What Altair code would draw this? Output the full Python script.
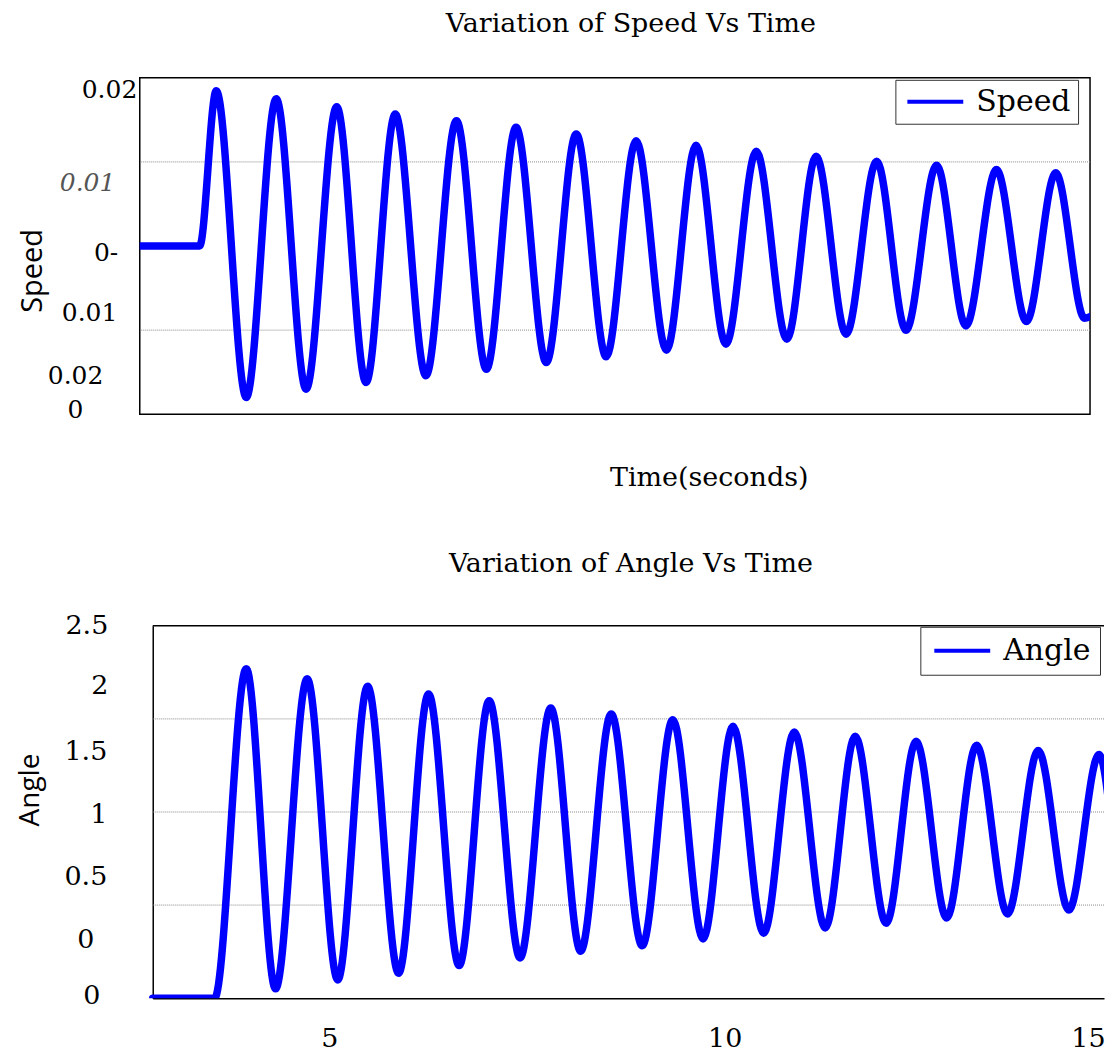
import altair as alt
import pandas as pd

# ---------------- data ----------------
SPEED_T = [0.0, 0.945, 1.208, 1.681, 2.154, 2.626, 3.109, 3.572, 4.033, 4.517,
           4.999, 5.472, 5.940, 6.417, 6.890, 7.363, 7.835, 8.314, 8.781, 9.253,
           9.732, 10.214, 10.677, 11.150, 11.632, 12.095, 12.578, 13.041, 13.523,
           13.996, 14.459, 14.913, 15.0]
SPEED_V = [0.0, 0.0, 0.01847, -0.01801, 0.01752, -0.01702, 0.01657, -0.01623,
           0.01570, -0.01543, 0.01491, -0.01465, 0.01412, -0.01385, 0.01333,
           -0.01318, 0.01253, -0.01239, 0.01199, -0.01168, 0.01128, -0.01109,
           0.01068, -0.01049, 0.01009, -0.01002, 0.00961, -0.00950, 0.00909,
           -0.00899, 0.00870, -0.0086, -0.0084]

ANGLE_T = [0.0, 0.964, 1.457, 1.913, 2.406, 2.882, 3.348, 3.830, 4.297, 4.774,
           5.241, 5.723, 6.201, 6.667, 7.143, 7.625, 8.103, 8.574, 9.040, 9.518,
           9.995, 10.477, 10.944, 11.426, 11.893, 12.369, 12.835, 13.317, 13.795,
           14.272, 14.743, 14.946]
ANGLE_V = [0.0, 0.0, 1.770, 0.050, 1.716, 0.098, 1.675, 0.134, 1.634, 0.175,
           1.598, 0.216, 1.559, 0.252, 1.527, 0.282, 1.496, 0.318, 1.461, 0.348,
           1.430, 0.377, 1.407, 0.402, 1.380, 0.430, 1.359, 0.452, 1.330, 0.473,
           1.309, 0.891]

SPEED_DOMAIN = [-0.02, 0.02]
SPEED_TIME_DOMAIN = [0, 15]
SPEED_GRID = [0.01, -0.01]
SPEED_TICK_POS = [0.01858, 0.00754, -0.00077, -0.00789, -0.01537, -0.01941]
SPEED_TICK_TEXT = ["0.02", "0.01", "0-", "0.01", "0.02", "0"]
ITALIC_TICK = 0.00754

ANGLE_DOMAIN = [0, 2]
ANGLE_TIME_DOMAIN = [0, 14.82]
ANGLE_GRID = [0.5, 1.0, 1.5]
ANGLE_TICK_POS = [2.0, 1.679, 1.326, 0.987, 0.656, 0.313, 0.015]
ANGLE_TICK_TEXT = ["2.5", "2", "1.5", "1", "0.5", "0", "0"]
TIME_TICK_POS = [2.75, 8.91, 14.57]
TIME_TICK_TEXT = ["5", "10", "15"]

# ---------------- styling ----------------
SERIF = "DejaVu Serif"
SANS = "Open Sans"
BLUE = "#0000FF"
SPEED_PAD = [3, 25, 22, 23, 37, 57]
ANGLE_PAD = [45, 45, 46, 46, 46, 59, 53]
LEGEND_PATH = "M-1,0H4.6"   # a 56px line drawn from a 20px symbol slot


def test_of(v):
    return f"abs(datum.value - ({v})) < 1e-9"


def label_expr(vals, texts):
    s = "''"
    for v, t in reversed(list(zip(vals, texts))):
        s = f"{test_of(v)} ? '{t}' : {s}"
    return s


def cond(vals, outs, default):
    return {"condition": [{"test": test_of(v), "value": o} for v, o in zip(vals, outs)],
            "value": default}


def legend(x, y, pad):
    return alt.Legend(title=None, orient="none", legendX=x, legendY=y,
                      symbolType=LEGEND_PATH, symbolSize=400, symbolStrokeWidth=4,
                      labelFont=SERIF, labelFontSize=30, labelColor="black",
                      labelOffset=44, padding=pad, strokeColor="#333333",
                      fillColor="white")


speed_df = pd.DataFrame({"t": SPEED_T, "v": SPEED_V, "series": "Speed"})
angle_df = pd.DataFrame({"t": ANGLE_T, "v": ANGLE_V, "series": "Angle"})

# ---------------- top panel ----------------
top_xscale = alt.Scale(domain=SPEED_TIME_DOMAIN, nice=False, zero=False)
top_yscale = alt.Scale(domain=SPEED_DOMAIN, nice=False, zero=False)
top_xaxis = alt.Axis(labels=False, ticks=False, tickSize=0, domain=False, grid=False,
                     title="Time(seconds)", titleFont=SERIF, titleFontSize=27,
                     titleFontWeight="normal", titleColor="black", titleX=570, titleY=71,
                     titleAlign="center", titleBaseline="alphabetic")
top_yaxis = alt.Axis(values=SPEED_TICK_POS, labelExpr=label_expr(SPEED_TICK_POS, SPEED_TICK_TEXT),
                     ticks=False, tickSize=0, domain=False, grid=False,
                     labelFont=SERIF, labelFontSize=25, labelAlign="right",
                     labelBaseline="middle", labelOverlap=False, labelFlush=False,
                     labelPadding=cond(SPEED_TICK_POS, SPEED_PAD, 10),
                     labelFontStyle=cond([ITALIC_TICK], ["italic"], "normal"),
                     labelColor=cond([ITALIC_TICK], ["#555555"], "black"),
                     title="Speed", titleFont=SANS, titleFontSize=29, titleFontWeight="normal",
                     titleColor="black", titleAngle=270, titleX=-98, titleY=193,
                     titleAlign="center", titleBaseline="alphabetic")

top_grid = alt.Chart(pd.DataFrame({"v": SPEED_GRID})).mark_rule(
    color="#8a8a8a", strokeDash=[1, 1], strokeWidth=1).encode(
    y=alt.Y("v:Q", scale=top_yscale, axis=top_yaxis))

top_line = alt.Chart(speed_df).mark_line(
    strokeWidth=7.5, interpolate="monotone", clip=True, strokeJoin="round", strokeCap="round").encode(
    x=alt.X("t:Q", scale=top_xscale, axis=top_xaxis),
    y=alt.Y("v:Q", scale=top_yscale, axis=top_yaxis),
    color=alt.Color("series:N", scale=alt.Scale(domain=["Speed"], range=[BLUE]),
                    legend=legend(757, 2, 7)))

top = alt.layer(top_grid, top_line).properties(
    width=952, height=337,
    title=alt.TitleParams("Variation of Speed Vs Time", font=SERIF, fontSize=27, fontWeight="normal",
                          color="black", offset=19, baseline="alphabetic", anchor="middle",
                          dx=16, frame="group"),
    view=alt.ViewBackground(stroke="black", strokeWidth=1.5))

# ---------------- bottom panel ----------------
bot_xscale = alt.Scale(domain=ANGLE_TIME_DOMAIN, range=[13, 966], nice=False, zero=False)
bot_yscale = alt.Scale(domain=ANGLE_DOMAIN, nice=False, zero=False)
bot_xaxis = alt.Axis(values=TIME_TICK_POS, labelExpr=label_expr(TIME_TICK_POS, TIME_TICK_TEXT),
                     ticks=False, tickSize=0, domain=True, domainColor="black", domainWidth=1.5,
                     grid=False, labelFont=SERIF, labelFontSize=27, labelColor="black",
                     labelBaseline="middle", labelPadding=40, labelOverlap=False,
                     labelFlush=False, title=None)
bot_yaxis = alt.Axis(values=ANGLE_TICK_POS, labelExpr=label_expr(ANGLE_TICK_POS, ANGLE_TICK_TEXT),
                     offset=-13, ticks=False, tickSize=0, domain=True, domainColor="black",
                     domainWidth=1.5, grid=False, labelFont=SERIF, labelFontSize=27,
                     labelColor="black", labelAlign="right", labelBaseline="middle",
                     labelOverlap=False, labelFlush=False,
                     labelPadding=cond(ANGLE_TICK_POS, ANGLE_PAD, 45),
                     title="Angle", titleFont=SANS, titleFontSize=28, titleFontWeight="normal",
                     titleColor="black", titleAngle=270, titleX=-114, titleY=164,
                     titleAlign="center", titleBaseline="alphabetic")

bot_grid = alt.Chart(pd.DataFrame({"v": ANGLE_GRID, "t": ANGLE_TIME_DOMAIN[0],
                                   "t1": ANGLE_TIME_DOMAIN[1]})).mark_rule(
    color="#8a8a8a", strokeDash=[1, 1], strokeWidth=1).encode(
    x=alt.X("t:Q", scale=bot_xscale, axis=bot_xaxis), x2="t1:Q",
    y=alt.Y("v:Q", scale=bot_yscale, axis=bot_yaxis))

bot_border = alt.Chart(pd.DataFrame({"t": [ANGLE_TIME_DOMAIN[0]], "t1": [ANGLE_TIME_DOMAIN[1]],
                                     "v": [ANGLE_DOMAIN[1]]})).mark_rule(
    color="black", strokeWidth=1.5).encode(
    x=alt.X("t:Q", scale=bot_xscale, axis=bot_xaxis), x2="t1:Q",
    y=alt.Y("v:Q", scale=bot_yscale, axis=bot_yaxis))

bot_line = alt.Chart(angle_df).mark_line(
    strokeWidth=7.5, interpolate="monotone", clip=True, strokeJoin="round", strokeCap="round").encode(
    x=alt.X("t:Q", scale=bot_xscale, axis=bot_xaxis),
    y=alt.Y("v:Q", scale=bot_yscale, axis=bot_yaxis),
    color=alt.Color("series:N", scale=alt.Scale(domain=["Angle"], range=[BLUE]),
                    legend=legend(782, 1, 9)))

bottom = alt.layer(bot_grid, bot_border, bot_line).properties(
    width=966, height=373,
    title=alt.TitleParams("Variation of Angle Vs Time", font=SERIF, fontSize=27, fontWeight="normal",
                          color="black", offset=13, baseline="alphabetic", anchor="middle",
                          dx=9, frame="group"),
    view=alt.ViewBackground(stroke="transparent"))

chart = alt.vconcat(top, bottom, spacing=58).resolve_scale(
    color="independent", x="independent", y="independent").resolve_legend(
    color="independent").properties(
    padding={"left": 8, "top": 0, "right": 0, "bottom": 0},
    background="white")

chart.save("out.html", embed_options={"renderer": "svg", "actions": False})
